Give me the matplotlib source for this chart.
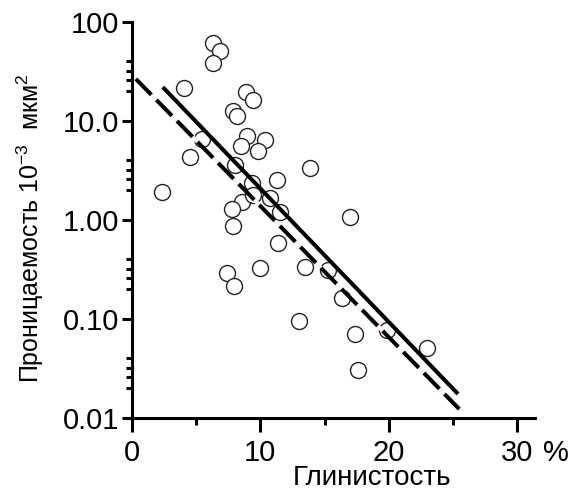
import numpy as np
import matplotlib.pyplot as plt
from matplotlib.ticker import FixedLocator, NullFormatter

plt.rcParams['font.family'] = ['Liberation Sans', 'DejaVu Sans']
plt.rcParams['mathtext.fontset'] = 'custom'
plt.rcParams['mathtext.rm'] = 'Liberation Sans'
plt.rcParams['mathtext.it'] = 'Liberation Sans'

# Clay content (%) vs permeability (10^-3 um^2)
clay = [2.3, 4.05, 4.5, 5.45, 6.3, 6.85, 6.3, 8.87, 9.4, 7.86, 8.17, 8.95,
        10.35, 9.8, 8.5, 8.0, 9.34, 11.3, 13.85, 8.56, 9.4, 7.78, 10.74,
        11.5, 7.86, 11.36, 16.96, 7.39, 7.94, 9.96, 13.46, 15.25, 13.0,
        16.34, 17.35, 17.6, 19.84, 22.96]
perm = [1.9, 21.5, 4.3, 6.6, 61, 51, 38.5, 19.6, 16.3, 12.6, 11.2, 7.0,
        6.4, 5.0, 5.6, 3.6, 2.37, 2.53, 3.35, 1.52, 1.79, 1.29, 1.67,
        1.2, 0.87, 0.59, 1.07, 0.29, 0.215, 0.33, 0.335, 0.31, 0.095,
        0.163, 0.070, 0.0305, 0.077, 0.051]

# two fitted lines (end points)
solid_x = [2.4, 25.4]
solid_y = [22.0, 0.0175]
dash_x = [0.3, 25.5]
dash_y = [26.6, 0.0123]

yticks = [0.01, 0.1, 1, 10, 100]
ytick_labels = ['0.01', '0.10', '1.00', '10.0', '100']
xticks = [0, 10, 20, 30]
xtick_labels = ['0', '10', '20', '30']

fig = plt.figure(figsize=(5.8, 4.93), dpi=100)
ax = fig.add_axes([132 / 580, 75 / 493, 403 / 580, 396 / 493])

ax.plot(clay, perm, 'o', ms=11.5, mfc='white', mec='#222222', mew=1.0,
        zorder=2, clip_on=False)
ax.plot(solid_x, solid_y, '-', color='black', lw=2.9, zorder=3,
        solid_capstyle='butt')
ax.plot(dash_x, dash_y, color='black', lw=2.9, dashes=(5.5, 1.8),
        gapcolor='#fcf0f0', zorder=3, dash_capstyle='butt')

ax.set_yscale('log')
ax.set_xlim(0, 31.4)
ax.set_ylim(0.01, 100)

ax.yaxis.set_major_locator(FixedLocator(yticks))
ax.set_yticklabels(ytick_labels)
minor = [m * d for d in [0.01, 0.1, 1, 10] for m in [2, 2.6, 3.2, 4]]
ax.yaxis.set_minor_locator(FixedLocator(minor))
ax.yaxis.set_minor_formatter(NullFormatter())

ax.set_xticks(xticks)
ax.set_xticklabels(xtick_labels)
ax.set_xticks([5, 15, 25], minor=True)

for s in ['top', 'right']:
    ax.spines[s].set_visible(False)
for s in ['left', 'bottom']:
    ax.spines[s].set_linewidth(2.2)

ax.tick_params(axis='y', which='major', length=7.5, width=2.2, labelsize=21, pad=1.5)
ax.tick_params(axis='y', which='minor', length=4.5, width=2.2)
ax.tick_params(axis='x', which='major', length=10, width=2.2, labelsize=21, pad=5)
ax.tick_params(axis='x', which='minor', length=5, width=2.2)

ax.text(32.0, -0.053, '%', transform=ax.get_xaxis_transform(), fontsize=21,
        ha='left', va='top')

ax.set_xlabel('Глинистость', fontsize=20)
ax.xaxis.set_label_coords((372 - 132) / 403, -0.118)
fig.text(30 / 580, 1 - 228 / 493, 'Проницаемость 10$^{-3}$  мкм$^{2}$',
         rotation=90, ha='center', va='center', fontsize=18)

fig.savefig('out.png', dpi=100)
